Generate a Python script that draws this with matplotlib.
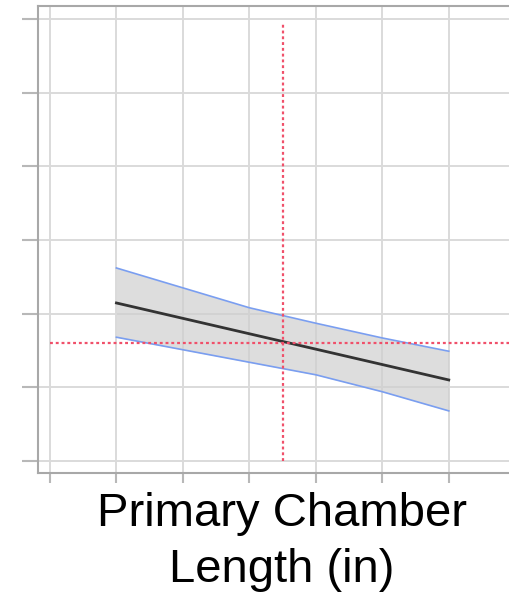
import numpy as np
import matplotlib
matplotlib.use('Agg')
import matplotlib.pyplot as plt

plt.rcParams['font.family'] = ['Liberation Sans', 'DejaVu Sans']

# chamber length (tick units) and predicted response with confidence band
x_vals = [1, 2, 3, 4, 5, 6]
y_pred = [2.145, 1.936, 1.727, 1.518, 1.309, 1.10]
y_upper = [2.62, 2.35, 2.08, 1.87, 1.67, 1.49]
y_lower = [1.68, 1.51, 1.34, 1.17, 0.94, 0.68]

x_ticks = [0, 1, 2, 3, 4, 5, 6, 7, 8]
y_ticks = [0, 1, 2, 3, 4, 5, 6]

x_current = 3.5
y_current = 1.60

fig = plt.figure(figsize=(5.10, 5.96), dpi=100)
ax = fig.add_axes([38 / 510, 123 / 596, 557 / 510, 467 / 596])

ax.set_xlim(-0.18, 8.2)
ax.set_ylim(-0.163, 6.176)
ax.set_xticks(x_ticks)
ax.set_yticks(y_ticks)
ax.set_xticklabels([])
ax.set_yticklabels([])
ax.grid(True, color='#dadada', linewidth=1.4)
ax.set_axisbelow(True)

ax.tick_params(axis='y', length=11.5, width=1.5, color='#b8b8b8')
ax.tick_params(axis='x', length=7.5, width=1.5, color='#b8b8b8')
for side in ['left', 'bottom', 'top']:
    ax.spines[side].set_color('#a8a8a8')
    ax.spines[side].set_linewidth(1.5)
ax.spines['right'].set_visible(False)

ax.fill_between(x_vals, y_lower, y_upper, color='#cfcfcf', alpha=0.7, linewidth=0)
ax.plot(x_vals, y_upper, color='#7a9ef0', linewidth=1.2)
ax.plot(x_vals, y_lower, color='#7a9ef0', linewidth=1.2)
ax.plot(x_vals, y_pred, color='#333333', linewidth=2.0)

ax.plot([x_current, x_current], [0, 5.95], color='#f0506a', linestyle=(0, (1.3, 1.3)), linewidth=1.6)
ax.plot([0, 8.2], [y_current, y_current], color='#f0506a', linestyle=(0, (1.3, 1.3)), linewidth=1.6)

fig.text(282 / 510, 1 - 492 / 596, 'Primary Chamber\nLength (in)', ha='center', va='top',
         fontsize=34, linespacing=1.36, color='black')

fig.savefig('out.png', dpi=100)
